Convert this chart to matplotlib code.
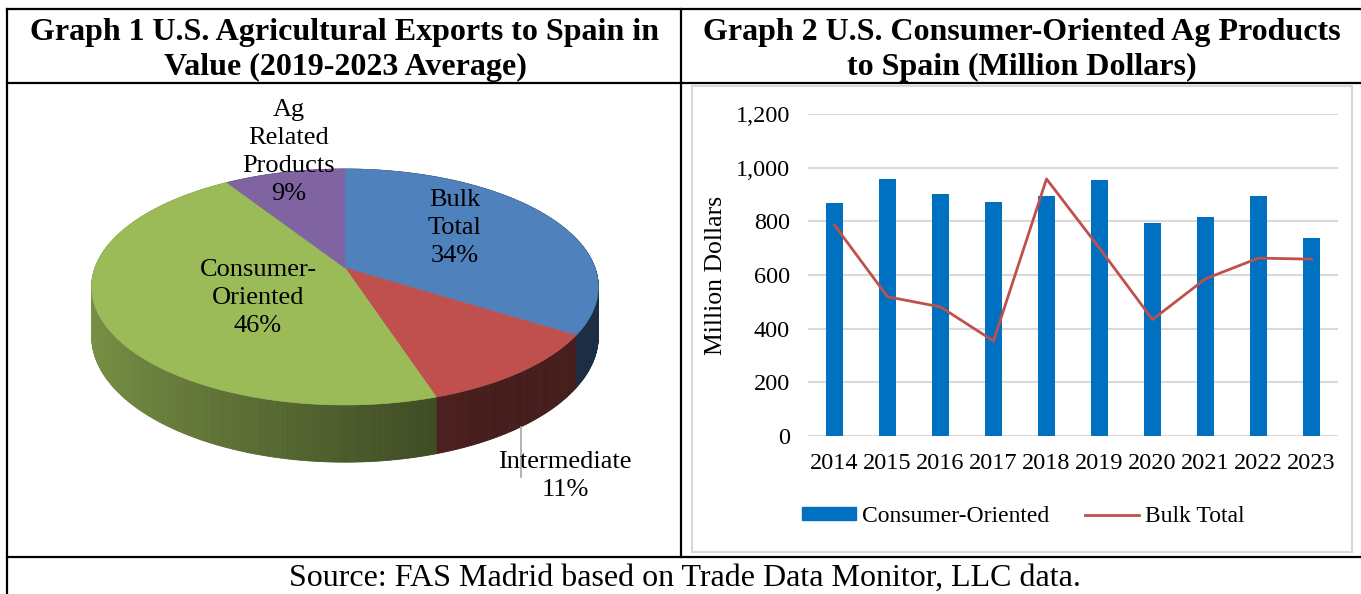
import numpy as np
import matplotlib
matplotlib.use("Agg")
import matplotlib.pyplot as plt
from matplotlib.collections import PolyCollection
from matplotlib.patches import Polygon, Rectangle
from matplotlib.lines import Line2D

plt.rcParams["font.family"] = ["Liberation Serif", "DejaVu Serif"]

# Graph 1: pie (shares in %), clockwise from 12 o'clock
pie_labels = ["Bulk\nTotal", "Intermediate", "Consumer-\nOriented", "Ag\nRelated\nProducts"]
pie_shares = [34, 11, 46, 9]
pie_colors = ["#4F81BD", "#C0504D", "#9BBB59", "#8064A2"]

# Graph 2: million dollars
years = ["2014", "2015", "2016", "2017", "2018", "2019", "2020", "2021", "2022", "2023"]
consumer = [868, 958, 902, 872, 894, 954, 795, 818, 894, 738]
bulk = [786, 519, 481, 354, 958, 700, 434, 586, 663, 659]

W, H = 1361, 594
fig = plt.figure(figsize=(W / 100, H / 100), dpi=100)

# page layer in pixel coordinates
bg = fig.add_axes([0, 0, 1, 1])
bg.set_xlim(0, W)
bg.set_ylim(H, 0)
bg.axis("off")

# table lines
lw = 1.6
bg.plot([7, W], [9, 9], color="black", lw=lw)
bg.plot([7, 7], [9, H], color="black", lw=lw)
bg.plot([7, W], [83, 83], color="black", lw=lw)
bg.plot([681, 681], [9, 557], color="black", lw=lw)
bg.plot([7, W], [557, 557], color="black", lw=lw)

title_kw = dict(ha="center", va="center", fontsize=23, fontweight="bold", linespacing=1.27)
bg.text(345, 50, "Graph 1 U.S. Agricultural Exports to Spain in\nValue (2019-2023 Average)", **title_kw)
bg.text(1022, 50, "Graph 2 U.S. Consumer-Oriented Ag Products\nto Spain (Million Dollars)", **title_kw)
bg.text(685, 578, "Source: FAS Madrid based on Trade Data Monitor, LLC data.",
        ha="center", va="center", fontsize=23)

# chart area frame of graph 2
bg.add_patch(Rectangle((692, 86), 660, 466, fill=False, ec="#d9d9d9", lw=1.5))

# ---- 3D pie (simple perspective projection) ----
cx, cy = 345, 268
A, B, k, depth = 250, 114.9, -0.161, 48


def proj(t_deg, z=0.0, r=1.0):
    t = np.radians(t_deg)
    u = r * np.cos(t)
    v = -r * np.sin(t)
    w = 1 + k * v
    return cx + A * u / w, cy + (B * v + z) / w


bounds = 90 - np.concatenate([[0], np.cumsum(pie_shares)]) * 3.6


def wedge_of(t):
    d = (90 - t) % 360
    for i in range(len(pie_shares)):
        if d < (90 - bounds[i + 1]):
            return i
    return len(pie_shares) - 1


# side wall
step = 0.5
ts = np.arange(0, 360, step)
polys, cols, order = [], [], []
for t in ts:
    t2 = t + step
    tm = t + step / 2
    x1, y1 = proj(t)
    x2, y2 = proj(t2)
    x3, y3 = proj(t2, depth)
    x4, y4 = proj(t, depth)
    polys.append([(x1, y1), (x2, y2), (x3, y3), (x4, y4)])
    u = np.cos(np.radians(tm))
    f = np.clip(0.78 - 0.38 * (u + 1) / 1.31, 0.36, 0.8)
    base = np.array(matplotlib.colors.to_rgb(pie_colors[wedge_of(tm)]))
    cols.append(base * f)
    order.append(-np.sin(np.radians(tm)))
idx = np.argsort(order)
pc = PolyCollection([polys[i] for i in idx], facecolors=[cols[i] for i in idx],
                    edgecolors=[cols[i] for i in idx], linewidths=0.6)
bg.add_collection(pc)

# top faces
for i, c in enumerate(pie_colors):
    arc = np.linspace(bounds[i], bounds[i + 1], 120)
    pts = [(cx, cy)] + [proj(a) for a in arc]
    bg.add_patch(Polygon(pts, closed=True, fc=c, ec=c, lw=0.5))

# data labels
lab_kw = dict(ha="center", va="center", fontsize=19, linespacing=1.37)
label_pos = [(455, 228), (565, 476), (258, 298), (289, 152)]
for lab, share, (lx, ly) in zip(pie_labels, pie_shares, label_pos):
    bg.text(lx, ly, f"{lab}\n{share}%", **lab_kw)

# leader line for the small slice
mid = (bounds[1] + bounds[2]) / 2
lx0, ly0 = proj(mid, depth)
bg.plot([lx0, lx0], [ly0, 477], color="#a6a6a6", lw=1.2)

# ---- Graph 2: bars + line ----
ax = fig.add_axes([808 / W, 1 - 436 / H, 530 / W, 322 / H])
ax.set_facecolor("none")
x = np.arange(len(years))
ax.bar(x, consumer, width=0.33, color="#0070C0", label="Consumer-Oriented", zorder=2)
ax.plot(x, bulk, color="#C0504D", lw=2, label="Bulk Total", zorder=3)
ax.set_xlim(-0.5, len(years) - 0.5)
ax.set_ylim(0, 1200)
ax.set_yticks(range(0, 1201, 200))
ax.set_yticklabels([f"{v:,}" for v in range(0, 1201, 200)])
ax.set_xticks(x)
ax.set_xticklabels(years)
ax.grid(axis="y", color="#d9d9d9", lw=1.5, zorder=0)
for s in ax.spines.values():
    s.set_visible(False)
ax.tick_params(axis="both", length=0, labelsize=17.5)
ax.tick_params(axis="y", pad=13)
ax.tick_params(axis="x", pad=12)
ax.set_ylabel("Million Dollars", fontsize=18.5)
ax.yaxis.set_label_coords(-0.153, 0.5)

handles = [Rectangle((0, 0), 1, 1, color="#0070C0"),
           Line2D([0], [0], color="#C0504D", lw=2)]
ax.legend(handles, ["Consumer-Oriented", "Bulk Total"], ncol=2, frameon=False,
          fontsize=17, loc="center", bbox_to_anchor=(0.406, -0.25),
          handlelength=2.3, handleheight=0.45, handletextpad=0.25, columnspacing=1.5)

fig.savefig("out.png", dpi=100)
